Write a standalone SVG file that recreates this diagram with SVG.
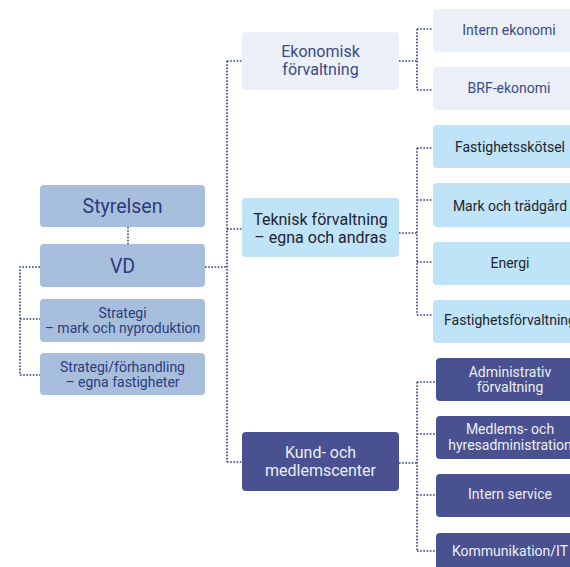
<svg xmlns="http://www.w3.org/2000/svg" width="570" height="567" viewBox="0 0 570 567">
<style>
text{font-family:Roboto,"Liberation Sans",sans-serif;text-anchor:middle}
.l rect{fill:#a7bfdd}
.l text{fill:#2c3b7c}
.e rect{fill:#ebf0f8}
.e text{fill:#3b4a8a}
.t rect{fill:#bfe3f7}
.t text{fill:#1f2430}
.k rect{fill:#4a5190}
.k text{fill:#eceef6}
.c{fill:none;stroke:#2f3a83;stroke-width:1.6;stroke-dasharray:1.6 1.6}
.m{font-size:16px}
.s{font-size:14px}
</style>
<rect width="570" height="567" fill="#ffffff"/>
<g id="connectors" class="c">
<path d="M128 227V244"/>
<path d="M40 267H20V375H40M20 319H40"/>
<path d="M205 267H227M227 61V462M227 61H242M227 229H242M227 462H242"/>
<path d="M399 61H417M417 29V90M417 29H433M417 90H433"/>
<path d="M399 233H417M417 148V315M417 148H433M417 200H433M417 262H433M417 315H433"/>
<path d="M399 463H417M417 382V551M417 382H436M417 434H436M417 495H436M417 551H436"/>
</g>
<g id="styrelsen" class="l"><rect x="40" y="185" width="165" height="42" rx="4"/><text x="122.5" y="213" font-size="19.5">Styrelsen</text></g>
<g id="vd" class="l"><rect x="40" y="244" width="165" height="43" rx="4"/><text x="122.5" y="272.5" font-size="19.5">VD</text></g>
<g id="strategi-mark" class="l"><rect x="40" y="299" width="165" height="43" rx="4"/><text x="122.5" y="317.5" class="s">Strategi</text><text x="122.5" y="332.5" class="s">– mark och nyproduktion</text></g>
<g id="strategi-forhandling" class="l"><rect x="40" y="353" width="165" height="42" rx="4"/><text x="122.5" y="371.5" class="s">Strategi/förhandling</text><text x="122.5" y="386.5" class="s">– egna fastigheter</text></g>
<g id="ekonomisk" class="e"><rect x="242" y="32" width="157" height="58" rx="4"/><text x="320.5" y="57" class="m">Ekonomisk</text><text x="320.5" y="75" class="m">förvaltning</text></g>
<g id="teknisk" class="t"><rect x="242" y="198" width="157" height="59" rx="4"/><text x="320.5" y="225" class="m">Teknisk förvaltning</text><text x="320.5" y="242.5" class="m">– egna och andras</text></g>
<g id="kund" class="k"><rect x="242" y="432" width="157" height="59" rx="4"/><text x="320.5" y="458" class="m">Kund- och</text><text x="320.5" y="476" class="m">medlemscenter</text></g>
<g id="intern-ekonomi" class="e"><rect x="433" y="9" width="152" height="43" rx="4"/><text x="509" y="35" class="s">Intern ekonomi</text></g>
<g id="brf-ekonomi" class="e"><rect x="433" y="67" width="152" height="43" rx="4"/><text x="509" y="93" class="s">BRF-ekonomi</text></g>
<g id="fastighetsskotsel" class="t"><rect x="433" y="125" width="155" height="43" rx="4"/><text x="510" y="152" class="s">Fastighetsskötsel</text></g>
<g id="mark" class="t"><rect x="433" y="183" width="155" height="44" rx="4"/><text x="510" y="211" class="s">Mark och trädgård</text></g>
<g id="energi" class="t"><rect x="433" y="242" width="155" height="43" rx="4"/><text x="510" y="268" class="s">Energi</text></g>
<g id="fastighetsforvaltning" class="t"><rect x="433" y="300" width="155" height="43" rx="4"/><text x="510" y="325" class="s">Fastighetsförvaltning</text></g>
<g id="administrativ" class="k"><rect x="436" y="358" width="152" height="43" rx="4"/><text x="510" y="376.5" class="s">Administrativ</text><text x="510" y="392" class="s">förvaltning</text></g>
<g id="medlems" class="k"><rect x="436" y="416" width="152" height="43" rx="4"/><text x="510" y="434" class="s">Medlems- och</text><text x="510" y="450" class="s">hyresadministration</text></g>
<g id="intern-service" class="k"><rect x="436" y="474" width="152" height="43" rx="4"/><text x="510" y="499" class="s">Intern service</text></g>
<g id="kommunikation" class="k"><rect x="436" y="533" width="152" height="43" rx="4"/><text x="510" y="556" class="s">Kommunikation/IT</text></g>
</svg>
